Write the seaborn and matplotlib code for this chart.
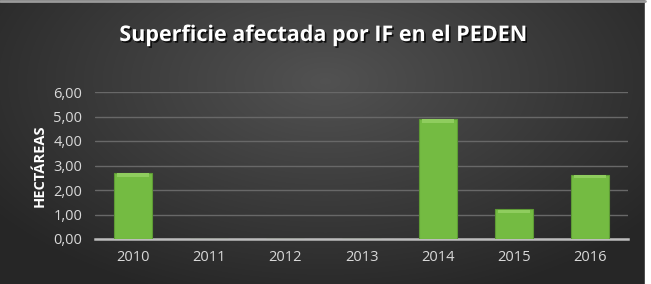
import numpy as np
import pandas as pd
import matplotlib.pyplot as plt
import seaborn as sns
from matplotlib import patheffects

# --- Datos ---
anios = ['2010', '2011', '2012', '2013', '2014', '2015', '2016']
hectareas = [2.70, 0.0, 0.0, 0.0, 4.90, 1.21, 2.62]
yticks = [0, 1, 2, 3, 4, 5, 6]

TITULO = 'Superficie afectada por IF en el PEDEN'
ETIQUETA_Y = 'HECTÁREAS'

sns.set_theme(style='dark')
plt.rcParams['font.family'] = ['Open Sans', 'DejaVu Sans']

df = pd.DataFrame({'Año': anios, 'Hectáreas': hectareas})

fig = plt.figure(figsize=(6.51, 2.84), dpi=100)

# --- Fondo con degradado radial ---
bg = fig.add_axes([0, 0, 1, 1], zorder=-10)
yy, xx = np.mgrid[-1:1:284j, -1:1:651j]
r = np.sqrt((xx * 0.9) ** 2 + (yy * 0.7 + 0.3) ** 2)
grad = np.clip(0.32 - 0.15 * r, 0.15, 0.33)
bg.imshow(np.dstack([grad] * 3), aspect='auto', extent=[0, 1, 0, 1])
bg.plot([0, 0.991], [0.995, 0.995], color='#9a9a9a', lw=2, transform=bg.transAxes)
bg.axvspan(0.991, 1, color='white')
bg.set_xlim(0, 1)
bg.set_ylim(0, 1)
bg.axis('off')

ax = fig.add_axes([95 / 651, 45 / 284, 533 / 651, 147 / 284])
ax.patch.set_alpha(0)

sns.barplot(data=df, x='Año', y='Hectáreas', color='#74bb42', width=0.5,
            saturation=1, edgecolor='#5e9a35', linewidth=0.8, ax=ax, zorder=3)
# brillo superior de cada barra
for p in ax.patches:
    h = p.get_height()
    if h > 0:
        ax.add_patch(plt.Rectangle((p.get_x() + 0.04, h - 0.15), p.get_width() - 0.08, 0.13,
                                   color='#8fcd5e', lw=0, zorder=4))

ax.set_ylim(0, 6)
ax.set_xlim(-0.5, len(anios) - 0.5)
ax.set_yticks(yticks)
ax.set_yticklabels([f'{v:.2f}'.replace('.', ',') for v in yticks])
ax.grid(axis='y', color='#686868', linewidth=1, zorder=0)
ax.grid(axis='x', visible=False)
ax.set_axisbelow(True)
for s in ['top', 'right', 'left']:
    ax.spines[s].set_visible(False)
ax.spines['bottom'].set_color('#bdbdbd')
ax.spines['bottom'].set_linewidth(1.8)
ax.tick_params(axis='both', colors='#d9d9d9', labelsize=10.5, length=0, pad=8)
ax.tick_params(axis='y', pad=9)
ax.set_xlabel('')
ax.set_ylabel(ETIQUETA_Y, color='white', fontsize=10.5, fontweight='bold', labelpad=5)

fig.text(0.496, 0.875, TITULO, ha='center', va='center', color='white',
         fontsize=15.5, fontweight='bold',
         path_effects=[patheffects.withSimplePatchShadow(offset=(1.2, -1.2), shadow_rgbFace='black', alpha=0.8)])

fig.savefig('out.png', dpi=100)
